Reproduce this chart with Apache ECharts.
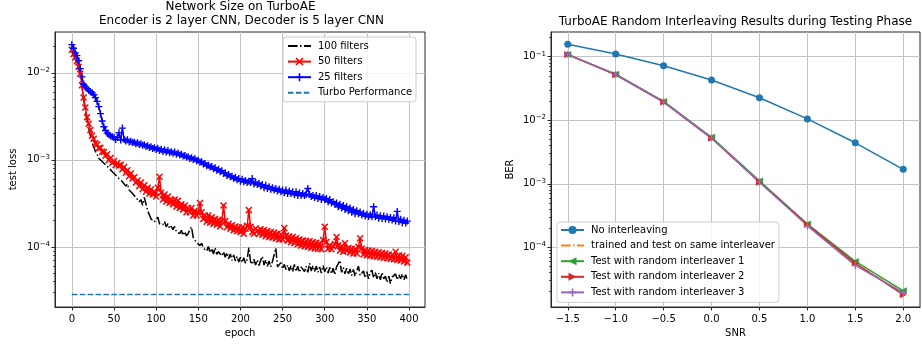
<!DOCTYPE html>
<html>
<head>
<meta charset="utf-8">
<script src="https://cdn.jsdelivr.net/npm/echarts@6/dist/echarts.min.js"></script>
<style>
html, body { margin: 0; padding: 0; background: #fff; }
#chart { width: 922px; height: 348px; }
</style>
</head>
<body>
<div id="chart"></div>
<script>
// ---------- Left panel: test loss vs epoch (one value every 2 epochs) ----------
const epochStep = 2;

const loss100 = [
  0.0180, 0.0160, 0.0146, 0.0132, 0.0115, 0.0094, 0.0070, 0.0050, 0.0038, 0.0029,
  0.0023, 0.0019, 0.0016, 0.00142, 0.00125, 0.00116, 0.00104, 0.00101, 0.00096, 0.00094,
  0.00088, 0.00089, 0.00081, 0.00080, 0.00073, 0.00074, 0.00067, 0.00068, 0.00061, 0.00062,
  0.00056, 0.00058, 0.00050, 0.00053, 0.00045, 0.00047, 0.00041, 0.00043, 0.00037, 0.00039,
  0.00033, 0.00035, 0.00030, 0.00037, 0.00031, 0.00026, 0.00025, 0.00021, 0.00022, 0.000195,
  0.00019, 0.00022, 0.000185, 0.000195, 0.00018, 0.000196, 0.00017, 0.000185, 0.000163, 0.000172,
  0.000158, 0.000172, 0.00015, 0.000158, 0.000142, 0.000155, 0.000136, 0.00015, 0.000134, 0.000142,
  0.000158, 0.00017, 0.000128, 0.000124, 0.000112, 0.000116, 0.000104, 0.00011, 0.000097, 0.000102,
  0.00009, 0.000101, 0.000086, 0.000096, 0.000083, 0.000098, 0.000082, 0.000088, 0.00009, 0.000079,
  0.000088, 0.000076, 0.000086, 0.000073, 0.000083, 0.00007, 0.000081, 0.000069, 0.000078, 0.000067,
  0.000076, 0.000066, 0.000075, 0.000065, 0.000072, 0.000098, 0.000068, 0.000063, 0.000072, 0.000062,
  0.000071, 0.000061, 0.00007, 0.000078, 0.000062, 0.000071, 0.00006, 0.000069, 0.000059, 0.000068,
  0.000071, 0.000097, 0.000059, 0.000058, 0.000066, 0.000056, 0.000063, 0.000055, 0.000062, 0.000053,
  0.000061, 0.000052, 0.000063, 0.000052, 0.00006, 0.000051, 0.000059, 0.000061, 0.000052, 0.00006,
  0.000051, 0.000065, 0.000053, 0.000061, 0.000052, 0.00006, 0.000051, 0.000059, 0.00005, 0.000061,
  0.000052, 0.000059, 0.00005, 0.000058, 0.000049, 0.000057, 0.000048, 0.000059, 0.000064, 0.00007,
  0.000051, 0.000058, 0.000049, 0.000057, 0.000048, 0.000056, 0.000047, 0.000055, 0.000046, 0.000053,
  0.00006, 0.000047, 0.000045, 0.000053, 0.000044, 0.000052, 0.000043, 0.000051, 0.000054, 0.000044,
  0.000051, 0.000043, 0.00005, 0.000042, 0.000051, 0.000043, 0.000046, 0.000039, 0.000046, 0.000038,
  0.000045, 0.000043, 0.000049, 0.000042, 0.000048, 0.000043, 0.000049, 0.000042, 0.000048, 0.000041
];

const loss50 = [
  0.0184, 0.0165, 0.0150, 0.0136, 0.0118, 0.0098, 0.0072, 0.0052, 0.0040, 0.0031,
  0.0026, 0.0022, 0.0019, 0.00175, 0.00155, 0.00150, 0.00137, 0.00138, 0.00124, 0.00123,
  0.00112, 0.00116, 0.00100, 0.00105, 0.00092, 0.00097, 0.00087, 0.00092, 0.00086, 0.00088,
  0.00078, 0.00083, 0.00071, 0.00076, 0.00065, 0.00070, 0.00061, 0.00063, 0.00055, 0.00058,
  0.00050, 0.00055, 0.00046, 0.00051, 0.00043, 0.00048, 0.00041, 0.00046, 0.00040, 0.00043,
  0.00038, 0.00048, 0.00064, 0.00042, 0.00035, 0.00040, 0.00033, 0.00038, 0.00032, 0.00035,
  0.00031, 0.00035, 0.00029, 0.00034, 0.00028, 0.00031, 0.00027, 0.00030, 0.00025, 0.00028,
  0.00025, 0.00028, 0.00023, 0.00026, 0.00023, 0.00025, 0.00032, 0.00025, 0.00021, 0.00023,
  0.000195, 0.00023, 0.00019, 0.00022, 0.000185, 0.00021, 0.00018, 0.000205, 0.000172, 0.0002,
  0.0003, 0.000198, 0.000168, 0.000185, 0.000162, 0.000178, 0.000155, 0.000172, 0.000152, 0.000168,
  0.000148, 0.000168, 0.000142, 0.000162, 0.000175, 0.000265, 0.00017, 0.000148, 0.000142, 0.000163,
  0.000152, 0.000141, 0.00016, 0.000138, 0.000156, 0.000133, 0.000152, 0.00013, 0.000148, 0.000128,
  0.000146, 0.000125, 0.000142, 0.000122, 0.00014, 0.000122, 0.000165, 0.000135, 0.000118, 0.000132,
  0.000113, 0.00013, 0.000111, 0.000126, 0.000107, 0.000122, 0.000104, 0.000119, 0.000102, 0.000117,
  0.0001, 0.000116, 0.000098, 0.000114, 0.000096, 0.000112, 0.000095, 0.00011, 0.000094, 0.00012,
  0.00017, 0.000114, 0.000095, 0.000104, 0.000094, 0.000102, 0.000108, 0.00013, 0.000104, 0.000091,
  0.000102, 0.000088, 0.00011, 0.00009, 0.000097, 0.000086, 0.000095, 0.000084, 0.000094, 0.000084,
  0.0001, 0.000126, 0.000096, 0.000082, 0.000092, 0.00008, 0.000091, 0.000079, 0.00009, 0.000078,
  0.000088, 0.000077, 0.000087, 0.000076, 0.000085, 0.000075, 0.000084, 0.000074, 0.000082, 0.000073,
  0.000081, 0.000072, 0.000088, 0.000071, 0.00008, 0.00007, 0.000079, 0.000068, 0.000076, 0.000066
];

const loss25 = [
  0.0211, 0.0192, 0.0170, 0.0158, 0.0138, 0.0112, 0.0090, 0.0074, 0.0069, 0.0066,
  0.0063, 0.0061, 0.0059, 0.0056, 0.0052, 0.0047, 0.0041, 0.0034, 0.0028, 0.0024,
  0.00218, 0.00203, 0.00195, 0.00188, 0.00184, 0.00181, 0.00172, 0.00181, 0.00205, 0.00169,
  0.00232, 0.00172, 0.00165, 0.00170, 0.00161, 0.00164, 0.00159, 0.00160, 0.00153, 0.00157,
  0.00150, 0.00153, 0.00147, 0.00149, 0.00143, 0.00145, 0.00139, 0.00142, 0.00135, 0.00138,
  0.00132, 0.00136, 0.00128, 0.00133, 0.00125, 0.00131, 0.00123, 0.00128, 0.00121, 0.00124,
  0.00119, 0.00123, 0.00116, 0.00120, 0.00114, 0.00116, 0.00111, 0.00112, 0.00108, 0.00109,
  0.00104, 0.00106, 0.00101, 0.00103, 0.00098, 0.00099, 0.00094, 0.00095, 0.00090, 0.00091,
  0.00086, 0.00087, 0.00083, 0.00084, 0.00079, 0.00081, 0.00076, 0.00078, 0.00073, 0.00075,
  0.00070, 0.00071, 0.00066, 0.00068, 0.00064, 0.00065, 0.00061, 0.00063, 0.00059, 0.00061,
  0.00057, 0.00060, 0.00056, 0.00058, 0.00055, 0.00057, 0.00055, 0.00061, 0.00053, 0.00055,
  0.00052, 0.00054, 0.00050, 0.00052, 0.00048, 0.00051, 0.00047, 0.00049, 0.00046, 0.00048,
  0.00045, 0.00047, 0.00044, 0.00046, 0.00043, 0.00045, 0.00042, 0.00045, 0.00041, 0.00044,
  0.00041, 0.00043, 0.00040, 0.00043, 0.00039, 0.00042, 0.00039, 0.00041, 0.00039, 0.00040,
  0.00047, 0.00040, 0.00038, 0.00039, 0.00037, 0.00039, 0.00036, 0.00038, 0.00035, 0.00037,
  0.00035, 0.00036, 0.00033, 0.00035, 0.00032, 0.00033, 0.00031, 0.00032, 0.00029, 0.00031,
  0.00028, 0.00030, 0.00027, 0.00029, 0.00026, 0.00028, 0.00025, 0.00027, 0.00024, 0.00026,
  0.00024, 0.000252, 0.000232, 0.000244, 0.000226, 0.000238, 0.000224, 0.000234, 0.000222, 0.000290,
  0.000222, 0.000232, 0.000214, 0.000228, 0.000212, 0.000226, 0.000210, 0.000222, 0.000208, 0.000218,
  0.000204, 0.000216, 0.000198, 0.000256, 0.000196, 0.000208, 0.000190, 0.000202, 0.000188, 0.000198
];

const turboLoss = 2.84e-5;
const turboEpochs = [0, 400];
const epochTicks = [0, 50, 100, 150, 200, 250, 300, 350, 400];
const lossDecades = [1e-4, 1e-3, 1e-2];

// ---------- Right panel: BER vs SNR ----------
const snr = [-1.5, -1.0, -0.5, 0.0, 0.5, 1.0, 1.5, 2.0];
const berNoInterleaving = [0.157, 0.110, 0.0722, 0.043, 0.0226, 0.0105, 0.00442, 0.00169];
const berSameInterleaver = [0.109, 0.0528, 0.0196, 0.0053, 0.00107, 0.000230, 5.5e-5, 1.9e-5];
const berRandom1 = [0.108, 0.0530, 0.0198, 0.0054, 0.00111, 0.000232, 6.0e-5, 2.07e-5];
const berRandom2 = [0.108, 0.0520, 0.0193, 0.0052, 0.00106, 0.000228, 5.6e-5, 1.8e-5];
const berRandom3 = [0.109, 0.0525, 0.0195, 0.0053, 0.00107, 0.000218, 5.2e-5, 1.93e-5];
const snrTicks = [-1.5, -1.0, -0.5, 0.0, 0.5, 1.0, 1.5, 2.0];
const berDecades = [1e-4, 1e-3, 1e-2, 1e-1];

// ---------- helpers ----------
const FONT = 'DejaVu Sans';
const INK = '#000';
const SPINE = '#262626';
const GRID = '#c4c4c4';
const PLUS = 'path://M4,0H6V4H10V6H6V10H4V6H0V4H4Z';
const CROSS = 'path://M1.5,0L5,3.5L8.5,0L10,1.5L6.5,5L10,8.5L8.5,10L5,6.5L1.5,10L0,8.5L3.5,5L0,1.5Z';

function epochPairs(vals) { return vals.map((v, i) => [i * epochStep, v]); }
function zip(xs, ys) { return xs.map((x, i) => [x, ys[i]]); }

function minorLogTicks(lo, hi) {
  const out = [];
  for (let e = Math.floor(Math.log10(lo)); e <= Math.ceil(Math.log10(hi)); e++) {
    for (let m = 2; m <= 9; m++) {
      const v = m * Math.pow(10, e);
      if (v >= lo && v <= hi) out.push(v);
    }
  }
  return out;
}

function powLabel(v) {
  const e = Math.round(Math.log10(v));
  return '{b|10}{s|' + (e < 0 ? '\u2212' : '') + Math.abs(e) + '}';
}
function signed(v) { return v.toFixed(1).replace('-', '\u2212'); }

const labelText = { fontFamily: FONT, fontSize: 10, color: INK };

function xAxisDef(gridIndex, min, max, ticks, name, fmt) {
  return {
    type: 'value', gridIndex, min, max, position: 'bottom',
    name, nameLocation: 'middle', nameGap: 21, nameTextStyle: labelText,
    axisLine: { show: true, onZero: false, lineStyle: { color: SPINE, width: 1 } },
    axisTick: { show: true, inside: false, length: 3.5, customValues: ticks, lineStyle: { color: SPINE, width: 1 } },
    axisLabel: Object.assign({ customValues: ticks, formatter: fmt, margin: 7 }, labelText),
    splitLine: { show: true, customValues: ticks, lineStyle: { color: GRID, width: 1 } }
  };
}

function yMajorDef(gridIndex, min, max, ticks, name, gap) {
  return {
    type: 'log', logBase: 10, gridIndex, min, max, position: 'left',
    name, nameLocation: 'middle', nameGap: gap, nameRotate: 90, nameTextStyle: labelText,
    axisLine: { show: true, onZero: false, lineStyle: { color: SPINE, width: 1 } },
    axisTick: { show: true, inside: false, length: 3.5, customValues: ticks, lineStyle: { color: SPINE, width: 1 } },
    axisLabel: {
      customValues: ticks, formatter: powLabel, margin: 5,
      rich: {
        b: { fontFamily: FONT, fontSize: 10, color: INK },
        s: { fontFamily: FONT, fontSize: 7, color: INK, padding: [0, 0, 6, 0] }
      }
    },
    splitLine: { show: true, customValues: ticks, lineStyle: { color: GRID, width: 1 } }
  };
}

function yMinorDef(gridIndex, min, max) {
  return {
    type: 'log', logBase: 10, gridIndex, min, max, position: 'left',
    axisLine: { show: false, onZero: false },
    axisTick: { show: true, inside: false, length: 2, customValues: minorLogTicks(min, max), lineStyle: { color: SPINE, width: 0.8 } },
    axisLabel: { show: false },
    splitLine: { show: false }
  };
}

const lossMin = 2.04e-5, lossMax = 0.0295;
const berMin = 1.15e-5, berMax = 0.245;

const common = { type: 'line', silent: true, animation: false, emphasis: { disabled: true }, showAllSymbol: true };

// line-only legend entries keep their stroke but hide the marker
function lineOnly(name) { return { name, itemStyle: { opacity: 0 } }; }

function legendDef(left, top, names, padding) {
  return {
    left, top, orient: 'vertical', data: names,
    padding, itemGap: 5.6, itemWidth: 23, itemHeight: 10,
    backgroundColor: 'rgba(255,255,255,0.85)', borderColor: '#cccccc', borderWidth: 1, borderRadius: 3,
    textStyle: { fontFamily: FONT, fontSize: 10, color: INK, padding: [0, 0, 0, 2] },
    selectedMode: false
  };
}

const option = {
  animation: false,
  backgroundColor: '#fff',
  textStyle: { fontFamily: FONT },
  grid: [
    { left: 55, top: 32, width: 370, height: 275, show: true, borderColor: SPINE, borderWidth: 1, backgroundColor: 'transparent', outerBoundsMode: 'none' },
    { left: 551, top: 32, width: 369, height: 275, show: true, borderColor: SPINE, borderWidth: 1, backgroundColor: 'transparent', outerBoundsMode: 'none' }
  ],
  xAxis: [
    xAxisDef(0, -19.95, 418.95, epochTicks, 'epoch', v => String(v)),
    xAxisDef(1, -1.675, 2.175, snrTicks, 'SNR', signed)
  ],
  yAxis: [
    yMajorDef(0, lossMin, lossMax, lossDecades, 'test loss', 37),
    yMinorDef(0, lossMin, lossMax),
    yMajorDef(1, berMin, berMax, berDecades, 'BER', 36),
    yMinorDef(1, berMin, berMax)
  ],
  legend: [
    legendDef(283, 37, [lineOnly('100 filters'), '50 filters', '25 filters', lineOnly('Turbo Performance')], [4, 4, 4, 4]),
    legendDef(557, 222, ['No interleaving', lineOnly('trained and test on same interleaver'), 'Test with random interleaver 1', 'Test with random interleaver 2', 'Test with random interleaver 3'], [3, 4, 5, 3])
  ],
  graphic: [
    { type: 'text', x: 240.5, y: 7, silent: true, style: { text: 'Network Size on TurboAE', fill: INK, font: '12px "DejaVu Sans"', textAlign: 'center', textVerticalAlign: 'middle' } },
    { type: 'text', x: 241.5, y: 21, silent: true, style: { text: 'Encoder is 2 layer CNN, Decoder is 5 layer CNN', fill: INK, font: '12px "DejaVu Sans"', textAlign: 'center', textVerticalAlign: 'middle' } },
    { type: 'text', x: 735.5, y: 21.5, silent: true, style: { text: 'TurboAE Random Interleaving Results during Testing Phase', fill: INK, font: '12px "DejaVu Sans"', textAlign: 'center', textVerticalAlign: 'middle' } }
  ],
  series: [
    Object.assign({}, common, {
      name: '100 filters', xAxisIndex: 0, yAxisIndex: 0, data: epochPairs(loss100),
      symbol: 'none', color: '#000000',
      lineStyle: { color: '#000000', width: 1.5, type: [9.6, 2.4, 1.5, 2.4] }
    }),
    Object.assign({}, common, {
      name: '50 filters', xAxisIndex: 0, yAxisIndex: 0, data: epochPairs(loss50),
      symbol: CROSS, symbolSize: 7, color: '#ff0000',
      itemStyle: { color: '#ff0000' }, lineStyle: { color: '#ff0000', width: 1.5 }
    }),
    Object.assign({}, common, {
      name: '25 filters', xAxisIndex: 0, yAxisIndex: 0, data: epochPairs(loss25),
      symbol: PLUS, symbolSize: 7, color: '#0000ff',
      itemStyle: { color: '#0000ff' }, lineStyle: { color: '#0000ff', width: 1.5 }
    }),
    Object.assign({}, common, {
      name: 'Turbo Performance', xAxisIndex: 0, yAxisIndex: 0,
      data: turboEpochs.map(e => [e, turboLoss]),
      symbol: 'none', color: '#1f77b4',
      lineStyle: { color: '#1f77b4', width: 1.5, type: [5.5, 2.4] }
    }),
    Object.assign({}, common, {
      name: 'No interleaving', xAxisIndex: 1, yAxisIndex: 2, data: zip(snr, berNoInterleaving),
      symbol: 'circle', symbolSize: 7, color: '#1f77b4',
      itemStyle: { color: '#1f77b4' }, lineStyle: { color: '#1f77b4', width: 1.5 }
    }),
    Object.assign({}, common, {
      name: 'trained and test on same interleaver', xAxisIndex: 1, yAxisIndex: 2, data: zip(snr, berSameInterleaver),
      symbol: 'none', color: '#ff7f0e',
      lineStyle: { color: '#ff7f0e', width: 1.5, type: [9.6, 2.4, 1.5, 2.4] }
    }),
    Object.assign({}, common, {
      name: 'Test with random interleaver 1', xAxisIndex: 1, yAxisIndex: 2, data: zip(snr, berRandom1),
      symbol: 'triangle', symbolRotate: 90, symbolSize: 7, color: '#2ca02c',
      itemStyle: { color: '#2ca02c' }, lineStyle: { color: '#2ca02c', width: 1.5 }
    }),
    Object.assign({}, common, {
      name: 'Test with random interleaver 2', xAxisIndex: 1, yAxisIndex: 2, data: zip(snr, berRandom2),
      symbol: 'triangle', symbolRotate: -90, symbolSize: 7, color: '#d62728',
      itemStyle: { color: '#d62728' }, lineStyle: { color: '#d62728', width: 1.5 }
    }),
    Object.assign({}, common, {
      name: 'Test with random interleaver 3', xAxisIndex: 1, yAxisIndex: 2, data: zip(snr, berRandom3),
      symbol: PLUS, symbolSize: 7, color: '#9467bd',
      itemStyle: { color: '#9467bd' }, lineStyle: { color: '#9467bd', width: 1.5 }
    })
  ]
};

const chart = echarts.init(document.getElementById('chart'), null, { renderer: 'canvas' });
chart.setOption(option);
</script>
</body>
</html>
